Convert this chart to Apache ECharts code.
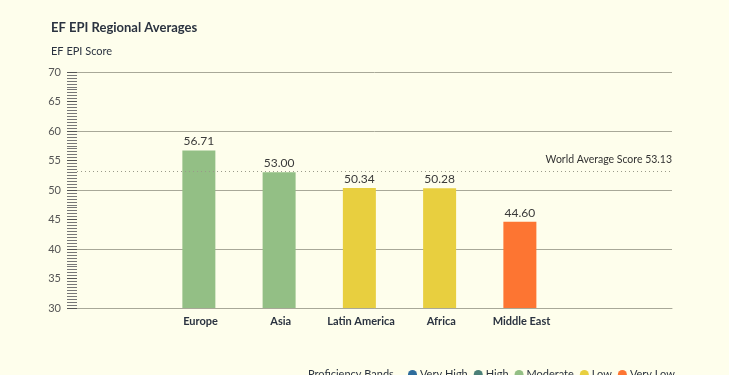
<!DOCTYPE html>
<html><head><meta charset="utf-8">
<script src="https://cdn.jsdelivr.net/npm/echarts@6/dist/echarts.min.js"></script>
<style>html,body{margin:0;padding:0;background:#fefeec;}#c{width:729px;height:375px;}</style>
</head><body><div id="c"></div>
<script>
const categories = ['Europe', 'Asia', 'Latin America', 'Africa', 'Middle East'];
const scores = [56.71, 53.00, 50.34, 50.28, 44.60];
const bands = ['Moderate', 'Moderate', 'Low', 'Low', 'Very Low'];
const bandNames = ['Very High', 'High', 'Moderate', 'Low', 'Very Low'];
const bandColors = ['#2e6c9c', '#4b8078', '#93bf85', '#e8cf3f', '#fd7532'];
const worldAverage = 53.13;
const yTicks = [30, 35, 40, 45, 50, 55, 60, 65, 70];

const colorOf = b => bandColors[bandNames.indexOf(b)];
const font = 'Lato, "Noto Sans", sans-serif';
const chart = echarts.init(document.getElementById('c'));
const barData = scores.map((v, i) => ({ value: [i, v], itemStyle: { color: colorOf(bands[i]) } }));

const series = [{
  type: 'bar', name: '_scores', barWidth: 33, data: barData,
  label: { show: true, position: 'top', distance: 3, color: '#3a3a3a', fontSize: 12, fontFamily: font,
    formatter: p => p.value[1].toFixed(2) },
  markLine: {
    silent: true, symbol: 'none',
    lineStyle: { color: '#9a9a8a', type: [1, 3], width: 1 },
    label: { position: 'insideEndTop', color: '#333', fontSize: 10.5, fontFamily: font, distance: [0, 6],
      formatter: 'World Average Score ' + worldAverage },
    data: [{ yAxis: worldAverage }]
  }
}];
bandNames.forEach((b, i) => series.push({ type: 'bar', name: b, data: [], itemStyle: { color: bandColors[i] } }));

chart.setOption({
  backgroundColor: '#fefeec',
  animation: false,
  title: [
    { text: 'EF EPI Regional Averages', left: 46, top: 16, textStyle: { fontSize: 13, fontWeight: 'bold', color: '#2b3340', fontFamily: font } },
    { text: 'EF EPI Score', left: 46, top: 41, textStyle: { fontSize: 11, fontWeight: 'normal', color: '#2b3340', fontFamily: font } },
    { text: 'Proficiency Bands', left: 303, top: 364, textStyle: { fontSize: 11, fontWeight: 'normal', color: '#2b3340', fontFamily: font } }
  ],
  legend: {
    data: bandNames, left: 403, top: 364, icon: 'circle', itemWidth: 9, itemHeight: 9, itemGap: 6,
    textStyle: { fontSize: 11, color: '#2b3340', fontFamily: font, padding: [0, 0, 0, -2] }
  },
  grid: { left: 77, right: 57, top: 72, bottom: 67, containLabel: false },
  xAxis: {
    type: 'value', min: -1.539, max: 5.875,
    axisLine: { show: true, onZero: false, lineStyle: { color: '#a8a898' } },
    axisTick: { show: false }, splitLine: { show: false },
    axisLabel: { customValues: [0, 1, 2, 3, 4], formatter: v => categories[Math.round(v)] || '',
      color: '#2b3340', fontSize: 11, fontWeight: 'bold', fontFamily: font, margin: 8 }
  },
  yAxis: [{
    type: 'value', min: 30, max: 70, interval: 5,
    axisLine: { show: false, onZero: false },
    axisTick: { show: true, length: 10, lineStyle: { color: '#555' } },
    minorTick: { show: true, splitNumber: 10, length: 10, lineStyle: { color: '#777' } },
    splitLine: { show: false },
    axisLabel: { color: '#555', fontSize: 11, fontFamily: font, margin: 16, customValues: yTicks }
  }, {
    type: 'value', min: 30, max: 70, interval: 10, position: 'left',
    axisLine: { show: false, onZero: false }, axisTick: { show: false }, axisLabel: { show: false },
    splitLine: { show: true, lineStyle: { color: '#a8a898', width: 1 } }
  }],
  series: series
});
</script></body></html>
